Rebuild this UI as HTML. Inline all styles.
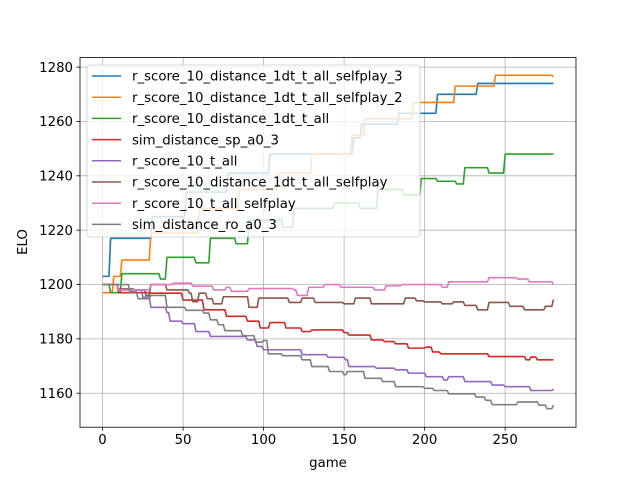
<!DOCTYPE html>
<html><head><meta charset="utf-8"><style>
body{margin:0;background:#fff;}
svg text{font-family:"DejaVu Sans","Liberation Sans",sans-serif;}
</style></head><body>
<svg id="chart" width="640" height="480" xmlns="http://www.w3.org/2000/svg">
<rect width="640" height="480" fill="#fff"/>
<g id="grid"></g><g id="series"></g><g id="axes"></g><g id="legend"></g>
</svg>
<script>
const xTicks=[0,50,100,150,200,250];
const yTicks=[1160,1180,1200,1220,1240,1260,1280];
const seriesNames=["r_score_10_distance_1dt_t_all_selfplay_3","r_score_10_distance_1dt_t_all_selfplay_2","r_score_10_distance_1dt_t_all","sim_distance_sp_a0_3","r_score_10_t_all","r_score_10_distance_1dt_t_all_selfplay","r_score_10_t_all_selfplay","sim_distance_ro_a0_3"];
const colors=["#1f77b4","#ff7f0e","#2ca02c","#d62728","#9467bd","#8c564b","#e377c2","#7f7f7f"];
const g0=[0,5,26,31,52,78,104,130,156,161,184,208,233,280];
const v0=[1203,1217,1217,1225,1234,1241,1248,1248,1254,1259,1263,1270,1274,1274];
const g1=[0,7,12,30,60,85,109,130,155,163,185,193,210,219,235,244,280];
const v1=[1197,1203,1209,1219,1228,1235,1241,1248,1255,1261,1261,1267,1267,1273,1273,1277,1276.5];
const g2=[0,5,12,28,36,40,55,58,64,67,80,83,88,91,112,119,140,144,160,167,171,187,193,198,208,220,225,240,246,250,280];
const v2=[1200,1197,1204,1204,1202,1210,1210,1208,1208,1217,1217,1215,1215,1223.7,1221,1228,1228,1230,1228,1228,1235,1233,1233,1239,1238,1237,1243,1241,1241,1248,1248];
const g3=[0,10,30,50,63,77,90,98,104,114,124,130,150,153,167,175,182,190,201,205,210,218,230,240,250,263,266,270,280];
const v3=[1200,1197,1196.8,1194.3,1190.7,1188.3,1186.5,1184,1186,1184,1182.7,1183.3,1182.3,1181.4,1179.6,1179,1178.2,1176.6,1177,1175.2,1174.5,1174.5,1174.5,1173.5,1173.5,1172.3,1173.3,1172.3,1172.3];
const g4=[0,10,25,30,40,42,50,58,67,83,90,96,100,110,124,140,151,153,170,182,190,201,212,215,225,240,242,250,266,280];
const v4=[1200,1198,1195.4,1191.6,1189.7,1186.5,1185.6,1182.7,1180.9,1180.9,1179.6,1177.2,1176,1176,1174.2,1173.2,1172.3,1169.8,1169.2,1168.6,1167.4,1166.1,1164.9,1166.1,1164.3,1164.3,1163,1162.4,1161,1161.5];
const g5=[0,10,20,27,30,40,54,56,60,65,69,75,90,91,97,108,116,124,132,150,157,167,188,195,200,211,218,225,233,240,246,253,262,268,275,280];
const v5=[1200,1198.4,1198,1196,1200,1198,1196.8,1193.7,1196.8,1194.8,1192.9,1195.5,1195.5,1191.6,1195,1195,1193.4,1195,1193.4,1192.9,1195,1192.9,1195,1194,1193.6,1192.9,1193.6,1192.3,1190.7,1193.4,1193.4,1192,1190.7,1190.7,1192,1194.5];
const g6=[0,10,30,44,56,69,77,80,91,119,121,128,138,148,169,176,186,211,215,237,240,250,258,265,275,280];
const v6=[1200,1198,1200,1200.5,1199.4,1198,1199,1197.5,1198.5,1198,1196,1199,1200,1199,1198,1199.5,1200,1199,1201,1201,1202.5,1202.5,1202,1201,1201,1200];
const g7=[0,17,22,30,40,52,63,67,72,76,87,95,100,103,112,124,130,141,150,152,163,174,182,200,206,215,228,232,238,242,255,258,265,271,276,280];
const v7=[1200,1197.3,1194.8,1196,1191.6,1190.5,1189.5,1187,1185.2,1183,1181.2,1178.8,1179.4,1174.5,1173.8,1172.3,1169.8,1168,1166.8,1168,1165.5,1164.3,1162.4,1161.8,1161,1159.8,1159.8,1158.6,1157.4,1155.8,1155.8,1156.8,1156.8,1155.6,1154.3,1155.6];
const allG=[g0,g1,g2,g3,g4,g5,g6,g7], allV=[v0,v1,v2,v3,v4,v5,v6,v7];

const L=80,R=576,T=57.6,B=427.2,xmin=-14,xmax=294,ymin=1147.5,ymax=1283.5;
const X=g=>L+(g-xmin)/(xmax-xmin)*(R-L);
const Y=v=>B-(v-ymin)/(ymax-ymin)*(B-T);
const NS="http://www.w3.org/2000/svg";
function mk(tag,attrs,parent){const e=document.createElementNS(NS,tag);for(const k in attrs)e.setAttribute(k,attrs[k]);parent.appendChild(e);return e;}
const grid=document.getElementById('grid'),axes=document.getElementById('axes'),ser=document.getElementById('series'),leg=document.getElementById('legend');
xTicks.forEach(t=>{const x=X(t);
 const gl=mk('line',{x1:x,x2:x,y1:T,y2:B,stroke:'#b0b0b0','stroke-width':0.8},grid);
 
 
 mk('line',{x1:x,x2:x,y1:B,y2:B+3.5,stroke:'#000','stroke-width':0.8},axes);
 const tx=mk('text',{x:x,y:B+17,'font-size':'13.3px','text-anchor':'middle'},axes);tx.textContent=t;
 
 });
yTicks.forEach(t=>{const y=Y(t);
 const gl=mk('line',{x1:L,x2:R,y1:y,y2:y,stroke:'#b0b0b0','stroke-width':0.8},grid);
 
 
 mk('line',{x1:L-3.5,x2:L,y1:y,y2:y,stroke:'#000','stroke-width':0.8},axes);
 const tx=mk('text',{x:L-7,y:y+4.7,'font-size':'13.3px','text-anchor':'end'},axes);tx.textContent=t;
 
 });
const frame=mk('rect',{x:L,y:T,width:R-L,height:B-T,fill:'none',stroke:'#000','stroke-width':0.8},axes);


const xl=mk('text',{x:(L+R)/2,y:467,'font-size':'13.3px','text-anchor':'middle'},axes);xl.textContent='game';


const yl=mk('text',{x:0,y:0,'font-size':'13.3px','text-anchor':'middle',transform:'translate(27,242) rotate(-90)'},axes);yl.textContent='ELO';


allG.forEach((gs,i)=>{const vs=allV[i];let d='M'+X(gs[0])+','+Y(vs[0]);
 for(let k=1;k<gs.length;k++){d+=' L'+X(gs[k]-1)+','+Y(vs[k-1])+' L'+X(gs[k])+','+Y(vs[k]);}
 const p=mk('path',{d:d,fill:'none',stroke:colors[i],'stroke-width':1.6,'stroke-linejoin':'round'},ser);
 
 });
const lb=mk('rect',{x:87,y:65,width:333,height:172,rx:3,fill:'#fff','fill-opacity':0.8,stroke:'#ccc','stroke-width':0.8},leg);


seriesNames.forEach((n,i)=>{const y=76+i*21.2;
 const ln=mk('line',{x1:92,x2:121,y1:y,y2:y,stroke:colors[i],'stroke-width':1.5},leg);
 
 
 const t=mk('text',{x:132,y:y+4.7,'font-size':'13.3px'},leg);t.textContent=n;
 
 });
</script>
</body></html>
